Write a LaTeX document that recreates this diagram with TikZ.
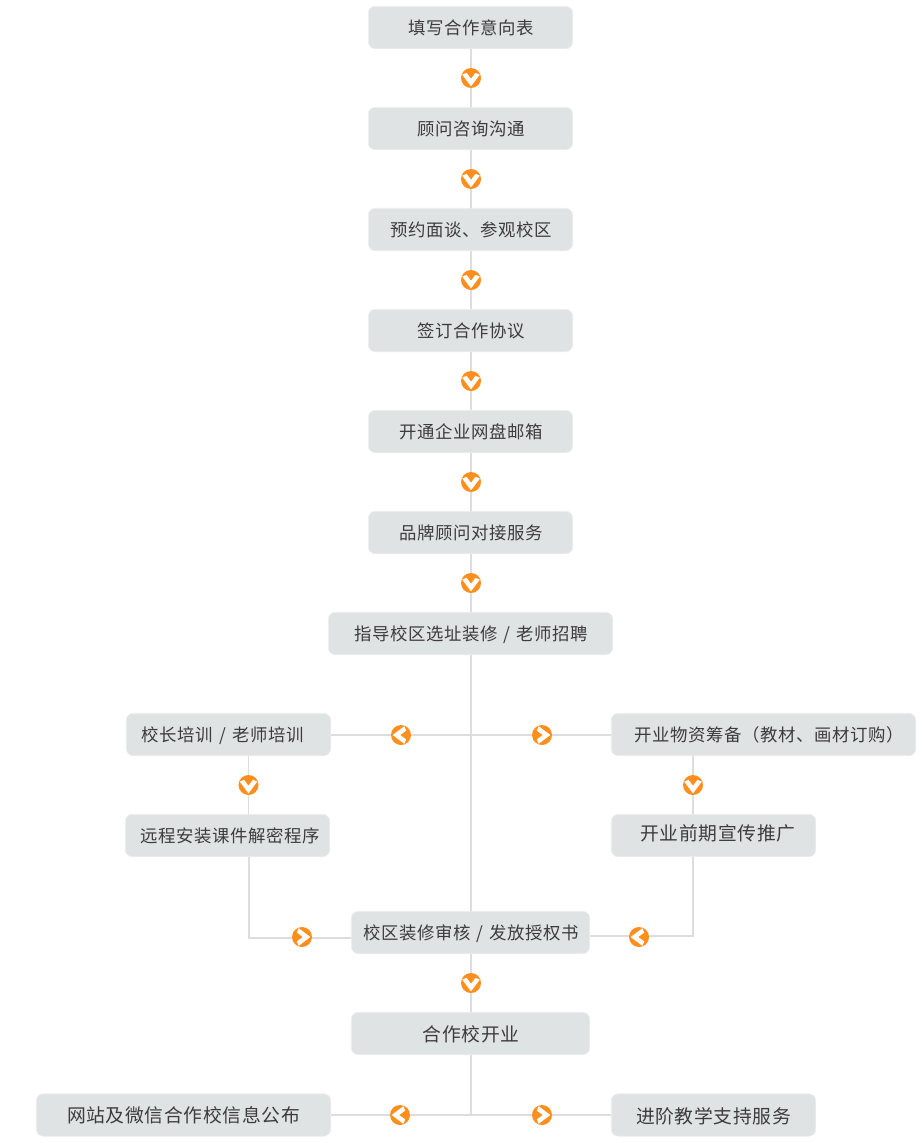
\documentclass[tikz,border=0pt]{standalone}
\usepackage{fontspec}
\setmainfont{Noto Sans CJK SC}
\newfontfamily\cjktext[LetterSpace=3.5]{Noto Sans CJK SC}
\usetikzlibrary{backgrounds}
\definecolor{boxfill}{HTML}{E0E3E4}
\definecolor{boxedge}{HTML}{EEF0F0}
\definecolor{txt}{HTML}{3C3C3C}
\definecolor{org}{HTML}{FF8E1C}
\definecolor{linec}{HTML}{DDDDDD}
\newcommand{\slashgap}{\kern1.6pt/\kern1.6pt}
\tikzset{
  x=1pt,y=-1pt,
  flow/.style={draw=boxedge,line width=0.6pt,fill=boxfill,rounded corners=7pt,inner sep=0pt,minimum height=42.5pt},
  txtsm/.style={text=txt,inner sep=0pt,font=\cjktext\fontsize{17.4}{20}\selectfont},
  txtlg/.style={text=txt,inner sep=0pt,font=\cjktext\fontsize{18.8}{20}\selectfont},
  link/.style={draw=linec,line width=1.8pt},
  badge/.style={circle,fill=org,minimum size=20pt,inner sep=0pt},
  chevron/.style={fill=white,draw=none},
}
\newcommand{\flowbox}[7]{% name, cx, cy, width, label style, label offset, text
  \node[flow,minimum width=#4pt,label={[#5,#6]center:#7}] (#1) at (#2,#3) {};}
\newcommand{\badgeat}[4]{% name, x, y, angle
  \node[badge] (#1) at (#2,#3) {};
  \fill[chevron,shift={(#1.center)},rotate=#4]
    (-8.8pt,3.4pt) -- (-4.4pt,5.2pt) -- (0pt,-0.8pt) -- (4.4pt,5.2pt) -- (8.8pt,3.4pt) -- (0pt,-8.4pt) -- cycle;}
\begin{document}
\begin{tikzpicture}
\useasboundingbox (0,0) rectangle (922,1143);
\flowbox{a}{470.5}{27.5}{204.5}{txtsm}{xshift=1pt,yshift=-0.7pt}{填写合作意向表}
\flowbox{b}{470.5}{128.5}{204.5}{txtsm}{xshift=1pt,yshift=-0.7pt}{顾问咨询沟通}
\flowbox{c}{470.5}{229.5}{204.5}{txtsm}{xshift=1pt,yshift=-0.7pt}{预约面谈、参观校区}
\flowbox{d}{470.5}{330.5}{204.5}{txtsm}{xshift=0.5pt,yshift=-0.7pt}{签订合作协议}
\flowbox{e}{470.5}{431.5}{204.5}{txtsm}{xshift=1pt,yshift=-0.7pt}{开通企业网盘邮箱}
\flowbox{f}{470.5}{532.5}{204.5}{txtsm}{xshift=1pt,yshift=-0.7pt}{品牌顾问对接服务}
\flowbox{g}{470.5}{633.5}{284.5}{txtsm}{xshift=0.5pt,yshift=-0.7pt}{指导校区选址装修 \slashgap{} 老师招聘}
\flowbox{h}{228.5}{734.5}{204.5}{txtsm}{xshift=-6pt,yshift=-1.5pt}{校长培训 \slashgap{} 老师培训}
\flowbox{i}{763.5}{734.5}{304.5}{txtsm}{xshift=6pt}{开业物资筹备（教材、画材订购）}
\flowbox{j}{227.5}{835.5}{204.5}{txtsm}{xshift=3pt,yshift=-0.5pt}{远程安装课件解密程序}
\flowbox{k}{713.5}{835.5}{204.5}{txtlg}{xshift=4.5pt,yshift=2pt}{开业前期宣传推广}
\flowbox{l}{470.5}{932.5}{238.5}{txtsm}{xshift=0.5pt,yshift=-1.5pt}{校区装修审核 \slashgap{} 发放授权书}
\flowbox{m}{470.5}{1033.5}{238.5}{txtlg}{xshift=0.5pt,yshift=-0.7pt}{合作校开业}
\flowbox{n}{183.5}{1115}{294.5}{txtlg}{}{网站及微信合作校信息公布}
\flowbox{o}{713.5}{1115}{204.5}{txtlg}{yshift=-1pt}{进阶教学支持服务}

\badgeat{ab}{471}{78}{0}
\badgeat{bc}{471}{179}{0}
\badgeat{cd}{471}{280}{0}
\badgeat{de}{471}{381}{0}
\badgeat{ef}{471}{482}{0}
\badgeat{fg}{471}{583}{0}
\badgeat{gh}{401}{735}{-90}
\badgeat{gi}{542}{735}{90}
\badgeat{hj}{248.5}{785}{0}
\badgeat{ik}{693}{785}{0}
\badgeat{jl}{302}{937}{90}
\badgeat{kl}{639}{937}{-90}
\badgeat{lm}{471}{983}{0}
\badgeat{mn}{400}{1115}{-90}
\badgeat{mo}{542}{1115}{90}

\coordinate (hub) at (471,735);
\coordinate (hubb) at (471,1115);
\coordinate (lcorner) at (249,938);
\coordinate (rcorner) at (693,936);
\begin{scope}[on background layer]
\draw[link] (a -| ab) -- (ab) -- (b -| ab) -- (bc) -- (c -| ab) -- (cd) -- (d -| ab) -- (de) -- (e -| ab) -- (ef) -- (f -| ab) -- (fg) -- (g -| ab);
\draw[link] (g -| ab) -- (hub) -- (l -| ab) -- (lm) -- (m -| ab) -- (hubb);
\draw[link] (h |- gh) -- (gh) -- (hub) -- (gi) -- (i |- gi);
\draw[link] (hj |- h) -- (hj) -- (hj |- j);
\draw[link] (ik |- i) -- (ik) -- (ik |- k);
\draw[link] (lcorner |- j) -- (lcorner) -- (l |- lcorner);
\draw[link] (rcorner |- k) -- (rcorner) -- (l |- rcorner);
\draw[link] (n |- mn) -- (mn) -- (hubb) -- (mo) -- (o |- mo);
\end{scope}
\end{tikzpicture}
\end{document}
